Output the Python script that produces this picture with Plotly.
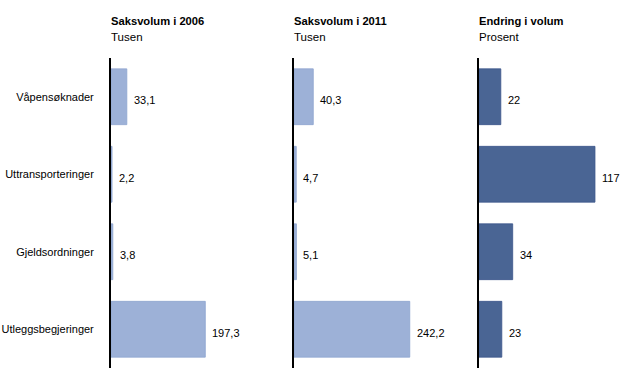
import plotly.graph_objects as go

categories = ["Våpensøknader", "Uttransporteringer", "Gjeldsordninger", "Utleggsbegjeringer"]
vol_2006 = [33.1, 2.2, 3.8, 197.3]
vol_2011 = [40.3, 4.7, 5.1, 242.2]
endring = [22, 117, 34, 23]
panel_titles = ["Saksvolum i 2006", "Saksvolum i 2011", "Endring i volum"]
panel_units = ["Tusen", "Tusen", "Prosent"]

W, H = 620, 384
LIGHT, LIGHT_LINE = "#9DB1D7", "#8EA4CF"
DARK, DARK_LINE = "#4A6594", "#3B568A"
FONT = "Liberation Sans, Arial, sans-serif"

def fmt(v, dec):
    return (f"{v:.{dec}f}").replace(".", ",")

panels = [
    (vol_2006, 1, LIGHT, LIGHT_LINE, (111, 280), 353.6),
    (vol_2011, 1, LIGHT, LIGHT_LINE, (294, 465), 357.7),
    (endring, 0, DARK, DARK_LINE, (479, 615), 137.2),
]

fig = go.Figure()
annotations = []
ydom = [(H - 368) / H, (H - 58) / H]
layout = dict(
    width=W, height=H, autosize=False,
    margin=dict(l=0, r=0, t=0, b=0),
    paper_bgcolor="white", plot_bgcolor="white",
    showlegend=False, bargap=0.28,
    font=dict(family=FONT, size=11, color="black"),
)

for i, (vals, dec, col, lcol, (x0, x1), rng) in enumerate(panels):
    n = "" if i == 0 else str(i + 1)
    xa, ya = "x" + n, "y" + n
    fig.add_trace(go.Bar(
        x=vals, y=categories, orientation="h",
        marker=dict(color=col, line=dict(color=lcol, width=0.8)),
        xaxis=xa, yaxis=ya, hoverinfo="skip",
    ))
    layout["xaxis" + n] = dict(
        domain=[x0 / W, x1 / W], range=[0, rng], anchor=ya,
        showgrid=False, zeroline=False, showline=False,
        showticklabels=False, ticks="", fixedrange=True,
    )
    layout["yaxis" + n] = dict(
        domain=ydom, anchor=xa, autorange="reversed",
        showgrid=False, zeroline=False, showline=True,
        linecolor="black", linewidth=2, ticks="",
        showticklabels=(i == 0), ticklabelstandoff=13,
        tickfont=dict(size=11, family=FONT, color="black"),
        fixedrange=True,
    )
    for c, v in zip(categories, vals):
        annotations.append(dict(
            x=v, y=c, xref=xa, yref=ya, text=fmt(v, dec),
            showarrow=False, xanchor="left", yanchor="middle",
            xshift=5, yshift=-3.5, font=dict(size=11, family=FONT, color="black"),
        ))
    annotations.append(dict(
        x=(x0 - 2) / W, y=(H - 21) / H, xref="paper", yref="paper",
        text="<b>" + panel_titles[i] + "</b>", showarrow=False,
        xanchor="left", yanchor="middle",
        font=dict(size=11.2, family=FONT, color="black"),
    ))
    annotations.append(dict(
        x=(x0 - 2) / W, y=(H - 36.5) / H, xref="paper", yref="paper",
        text=panel_units[i], showarrow=False,
        xanchor="left", yanchor="middle",
        font=dict(size=11.5, family=FONT, color="black"),
    ))

layout["annotations"] = annotations
fig.update_layout(**layout)
fig.write_html(
    "out.html",
    config={"displayModeBar": False},
    post_script="document.body.style.margin='0';document.body.style.overflow='hidden';",
)
